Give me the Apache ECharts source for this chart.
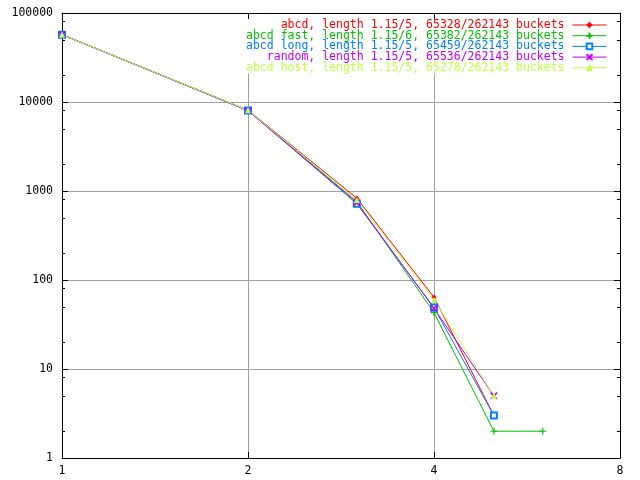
<!DOCTYPE html>
<html><head><meta charset="utf-8">
<script src="https://cdn.jsdelivr.net/npm/echarts@6/dist/echarts.min.js"></script>
<style>html,body{margin:0;padding:0;background:#fff}#c{width:640px;height:480px}</style>
</head><body><div id="c"></div>
<script>
const chainLengths = [1, 2, 3, 4, 5, 6];
const seriesNames = [
  'abcd, length 1.15/5, 65328/262143 buckets',
  'abcd fast, length 1.15/6, 65382/262143 buckets',
  'abcd long, length 1.15/5, 65459/262143 buckets',
  'random, length 1.15/5, 65536/262143 buckets',
  'abcd host, length 1.15/5, 65278/262143 buckets'
];
const abcdCounts     = [57000, 8100, 830, 64, 3];
const abcdFastCounts = [57100, 8050, 760, 43, 2, 2];
const abcdLongCounts = [57000, 8000, 720, 49, 3];
const randomCounts   = [57000, 8000, 740, 48, 5];
const abcdHostCounts = [56900, 8100, 790, 60, 5];
const xTicks = [1, 2, 4, 8];
const yMinorTicks = [2, 5, 8, 20, 50, 80, 200, 500, 800, 2000, 5000, 8000, 20000, 50000, 80000];

const colors = ['#ff0000', '#00c000', '#0080ff', '#c000ff', '#c0ff40'];
const symbols = [
  'diamond',
  'path://M0,2.5H6V3.5H0Z M2.5,0H3.5V6H2.5Z',
  'emptyRect',
  'path://M0,0L1,0L6,5L6,6L5,6L0,1Z M5,0L6,0L6,1L1,6L0,6L0,5Z',
  'triangle'
];
const symbolSizes = [5, 7, 6, 7, 6];
const allCounts = [abcdCounts, abcdFastCounts, abcdLongCounts, randomCounts, abcdHostCounts];

const FONT = 'DejaVu Sans Mono';
const chart = echarts.init(document.getElementById('c'), null, {renderer: 'canvas'});

const series = allCounts.map((vals, i) => ({
  name: seriesNames[i],
  type: 'line',
  xAxisIndex: 0,
  yAxisIndex: 0,
  data: vals.map((v, k) => [chainLengths[k], v]),
  symbol: symbols[i],
  symbolSize: symbolSizes[i],
  showAllSymbol: true,
  clip: false,
  color: colors[i],
  lineStyle: {color: colors[i], width: 1},
  itemStyle: {color: colors[i], borderColor: colors[i], borderWidth: i === 2 ? 1 : 0},
  emphasis: {disabled: true},
  animation: false
}));

const axisLineStyle = {show: true, lineStyle: {color: '#000', width: 1}};
const baseX = {type: 'log', logBase: 2, min: 1, max: 8, splitNumber: 3};
const baseY = {type: 'log', logBase: 10, min: 1, max: 100000, splitNumber: 5};

chart.setOption({
  backgroundColor: '#ffffff',
  animation: false,
  textStyle: {fontFamily: FONT},
  grid: {left: 62, right: 20, top: 13, bottom: 22, containLabel: false},
  legend: {
    orient: 'vertical',
    align: 'right',
    right: 28,
    top: 19,
    padding: [0, 5, 0, 5],
    backgroundColor: '#ffffff',
    itemGap: -1.3,
    itemWidth: 34,
    itemHeight: 7,
    selectedMode: false,
    lineStyle: {width: 1},
    itemStyle: {borderWidth: 1},
    textStyle: {fontFamily: FONT, fontSize: 11.5, padding: [0, 3, 0, 0]},
    data: seriesNames.map((n, i) => ({name: n, textStyle: {color: colors[i]}}))
  },
  xAxis: [
    Object.assign({}, baseX, {
      position: 'bottom',
      axisLine: axisLineStyle,
      axisTick: {show: true, inside: true, length: 6, lineStyle: {color: '#000'}},
      axisLabel: {show: true, color: '#000', fontFamily: FONT, fontSize: 11.5, margin: 7,
                  formatter: v => String(Math.round(v))},
      splitLine: {show: true, lineStyle: {color: '#a0a0a0', width: 1}},
      data: xTicks
    }),
    Object.assign({}, baseX, {
      position: 'top',
      axisLine: axisLineStyle,
      axisTick: {show: true, inside: true, length: 6, lineStyle: {color: '#000'}},
      axisLabel: {show: false},
      splitLine: {show: false}
    })
  ],
  yAxis: [
    Object.assign({}, baseY, {
      position: 'left',
      axisLine: axisLineStyle,
      axisTick: {show: true, inside: true, length: 6, lineStyle: {color: '#000'}},
      axisLabel: {show: true, color: '#000', fontFamily: FONT, fontSize: 11.5, margin: 9,
                  formatter: v => String(Math.round(v))},
      splitLine: {show: true, lineStyle: {color: '#a0a0a0', width: 1}}
    }),
    Object.assign({}, baseY, {
      position: 'right',
      axisLine: axisLineStyle,
      axisTick: {show: true, inside: true, length: 6, lineStyle: {color: '#000'}},
      axisLabel: {show: false},
      splitLine: {show: false}
    }),
    Object.assign({}, baseY, {
      position: 'left',
      axisLine: {show: false},
      axisTick: {show: true, inside: true, length: 3, customValues: yMinorTicks, lineStyle: {color: '#000'}},
      axisLabel: {show: false},
      splitLine: {show: false}
    }),
    Object.assign({}, baseY, {
      position: 'right',
      axisLine: {show: false},
      axisTick: {show: true, inside: true, length: 3, customValues: yMinorTicks, lineStyle: {color: '#000'}},
      axisLabel: {show: false},
      splitLine: {show: false}
    })
  ],
  series: series
});
</script>
</body></html>
